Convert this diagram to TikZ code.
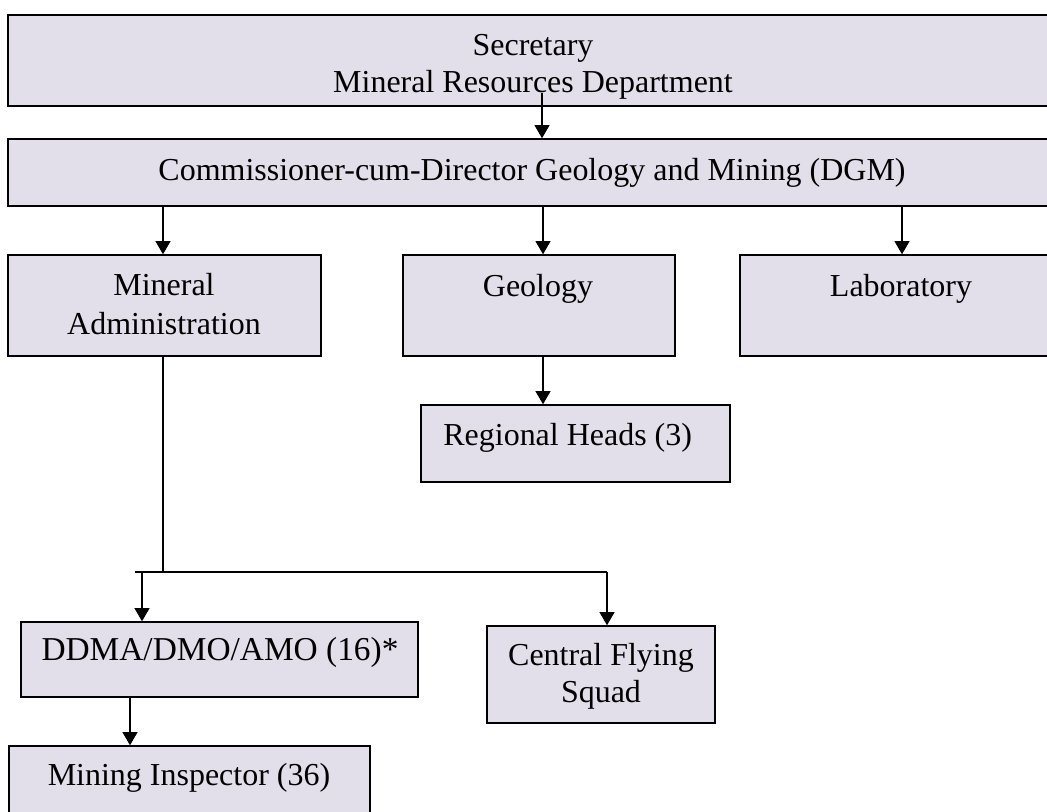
\documentclass[tikz,border=0pt]{standalone}
\usepackage{fontspec}
\setmainfont{Liberation Serif}
\usetikzlibrary{arrows.meta,positioning}
\definecolor{boxfill}{RGB}{227,223,234}

\tikzset{
    orgbox/.style={draw, line width=0.8pt, fill=boxfill, inner sep=0pt},
    orgtext/.style={font=\fontsize{18.2}{22}\selectfont, align=center, inner sep=0pt},
    arr/.style={line width=0.7pt, -{Triangle[length=7.5pt,width=8.5pt]}},
    link/.style={line width=0.7pt}
}

% a box from its top left to its bottom right corner, in pixels
\newcommand{\orgbox}[5]{
    \pgfmathsetmacro \boxw {(#4-#2)*0.02}
    \pgfmathsetmacro \boxh {(#5-#3)*0.02}
    \node[orgbox, minimum width=\boxw cm, minimum height=\boxh cm] (#1) at ({(#2+#4)/2},{(#3+#5)/2}) {};
}

\begin{document}
\begin{tikzpicture}[x=0.02cm, y=-0.02cm]
    \useasboundingbox (0,0) rectangle (1047,811);
    \clip (0,0) rectangle (1047,811);

    % top rows
    \orgbox{sec}{8}{15}{1060}{106}
    \orgbox{dgm}{8}{139}{1060}{206}

    % wings
    \orgbox{minadm}{8}{255}{321}{356}
    \orgbox{geo}{403}{255}{675}{356}
    \orgbox{lab}{740}{255}{1062}{356}
    \orgbox{reg}{421}{405}{730}{482}

    % field offices
    \orgbox{ddma}{21}{622}{418}{697}
    \orgbox{cfs}{487}{626}{715}{723}
    \orgbox{insp}{9}{746}{370}{830}

    % texts, placed on the baseline of their last line
    \node[orgtext, anchor=base, font=\fontsize{18.2}{21}\selectfont] (sec-t) at (533,92) {Secretary\\Mineral Resources Department};
    \node[orgtext, anchor=base] (dgm-t) at (532,180) {Commissioner-cum-Director Geology and Mining (DGM)};
    \node[orgtext, anchor=base] (minadm-t) at (164,334) {Mineral\\Administration};
    \node[orgtext, anchor=base] (geo-t) at (538,296) {Geology};
    \node[orgtext, anchor=base] (lab-t) at (901,296) {Laboratory};
    \node[orgtext, anchor=base west] (reg-t) at (443,445) {Regional Heads (3)};
    \node[orgtext, anchor=base, font=\fontsize{19}{22}\selectfont] (ddma-t) at (220,660) {DDMA/DMO/AMO (16)*};
    \node[orgtext, anchor=base, font=\fontsize{18.2}{20.5}\selectfont] (cfs-t) at (601,702) {Central Flying\\Squad};
    \node[orgtext, anchor=base] (insp-t) at (189,785) {Mining Inspector (36)};

    % connectors
    \coordinate (secdrop) at (542,93);
    \coordinate (geodrop) at (543,356);
    \coordinate (labdrop) at (902,206);
    \coordinate (split) at (163,572);
    \coordinate (busL) at (135,572);
    \coordinate (busR) at (607,572);
    \coordinate (ddmatap) at (142,572);
    \coordinate (ddmadrop) at (130,697);

    \draw[arr] (secdrop) -- (secdrop |- dgm.north);
    \draw[arr] (split |- dgm.south) -- (split |- minadm.north);
    \draw[arr] (geodrop |- dgm.south) -- (geodrop |- geo.north);
    \draw[arr] (labdrop) -- (labdrop |- lab.north);
    \draw[arr] (geodrop) -- (geodrop |- reg.north);

    \draw[link] (split |- minadm.south) -- (split);
    \draw[link] (busL) -- (busR);
    \draw[arr] (ddmatap) -- (ddmatap |- ddma.north);
    \draw[arr] (busR) -- (busR |- cfs.north);
    \draw[arr] (ddmadrop) -- (ddmadrop |- insp.north);
\end{tikzpicture}
\end{document}
